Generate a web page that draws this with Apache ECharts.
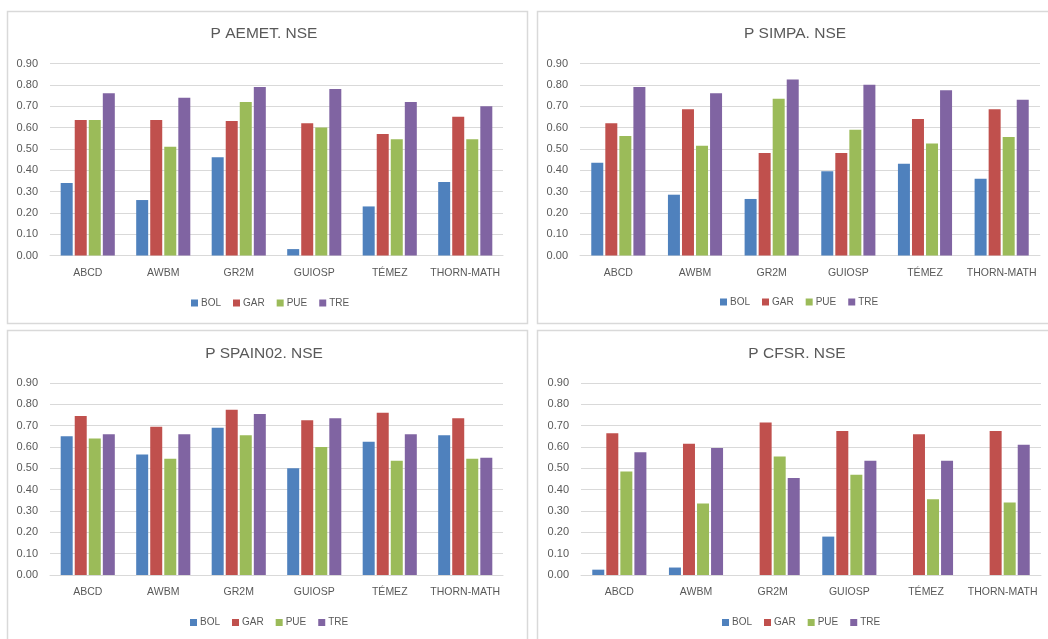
<!DOCTYPE html>
<html>
<head>
<meta charset="utf-8">
<title>NSE por modelo y estación</title>
<script src="https://cdn.jsdelivr.net/npm/echarts@6/dist/echarts.min.js"></script>
<style>
  html, body { margin: 0; padding: 0; background: #ffffff; }
  #chart { width: 1048px; height: 639px; }
</style>
</head>
<body>
<div id="chart"></div>
<script>
// Models on the category axis and stations in each group
const categories = ['ABCD', 'AWBM', 'GR2M', 'GUIOSP', 'TÉMEZ', 'THORN-MATH'];
const seriesNames = ['BOL', 'GAR', 'PUE', 'TRE'];
const seriesColors = ['#4F81BD', '#C0504D', '#9BBB59', '#8064A2'];
const panelTitles = ['P AEMET. NSE', 'P SIMPA. NSE', 'P SPAIN02. NSE', 'P CFSR. NSE'];
const yTicks = [0, 0.1, 0.2, 0.3, 0.4, 0.5, 0.6, 0.7, 0.8, 0.9];

// NSE values (null = below the axis range, not drawn)
const aemetBOL = [0.34, 0.26, 0.46, 0.03, 0.23, 0.345];
const aemetGAR = [0.635, 0.635, 0.63, 0.62, 0.57, 0.65];
const aemetPUE = [0.635, 0.51, 0.72, 0.60, 0.545, 0.545];
const aemetTRE = [0.76, 0.74, 0.79, 0.78, 0.72, 0.70];

const simpaBOL = [0.435, 0.285, 0.265, 0.395, 0.43, 0.36];
const simpaGAR = [0.62, 0.685, 0.48, 0.48, 0.64, 0.685];
const simpaPUE = [0.56, 0.515, 0.735, 0.59, 0.525, 0.555];
const simpaTRE = [0.79, 0.76, 0.825, 0.80, 0.775, 0.73];

const spainBOL = [0.65, 0.565, 0.69, 0.50, 0.625, 0.655];
const spainGAR = [0.745, 0.695, 0.775, 0.725, 0.76, 0.735];
const spainPUE = [0.64, 0.545, 0.655, 0.60, 0.535, 0.545];
const spainTRE = [0.66, 0.66, 0.755, 0.735, 0.66, 0.55];

const cfsrBOL = [0.025, 0.035, null, 0.18, null, null];
const cfsrGAR = [0.665, 0.615, 0.715, 0.675, 0.66, 0.675];
const cfsrPUE = [0.485, 0.335, 0.555, 0.47, 0.355, 0.34];
const cfsrTRE = [0.575, 0.595, 0.455, 0.535, 0.535, 0.61];

const panelData = [
  [aemetBOL, aemetGAR, aemetPUE, aemetTRE],
  [simpaBOL, simpaGAR, simpaPUE, simpaTRE],
  [spainBOL, spainGAR, spainPUE, spainTRE],
  [cfsrBOL, cfsrGAR, cfsrPUE, cfsrTRE]
];

const FONT = '"Liberation Sans", Arial, sans-serif';
const TEXT = '#595959';
const GRIDLINE = '#D9D9D9';

// Panel frames and the plot rectangle inside each one
const frames = [
  { x: 7, y: 11, w: 520, h: 312 },
  { x: 537, y: 11, w: 520, h: 312 },
  { x: 7, y: 330, w: 520, h: 320 },
  { x: 537, y: 330, w: 520, h: 320 }
];
const plots = [
  { left: 50, top: 63.5, width: 453, height: 192 },
  { left: 580, top: 63.5, width: 460, height: 192 },
  { left: 50, top: 383, width: 453, height: 192 },
  { left: 581, top: 383, width: 460, height: 192 }
];
const titlePos = [{ x: 264, y: 25.5 }, { x: 795, y: 25.5 }, { x: 264, y: 345.5 }, { x: 797, y: 345.5 }];
const legendPos = [{ x: 191, y: 298 }, { x: 720, y: 297 }, { x: 190, y: 617.5 }, { x: 722, y: 617.5 }];

const option = {
  animation: false,
  backgroundColor: '#ffffff',
  textStyle: { fontFamily: FONT },
  title: panelTitles.map((t, i) => ({
    text: t,
    left: titlePos[i].x,
    top: titlePos[i].y,
    textAlign: 'center',
    padding: 0,
    textStyle: { fontFamily: FONT, fontSize: 15.5, fontWeight: 'normal', color: TEXT }
  })),
  legend: legendPos.map(p => ({
    data: seriesNames,
    left: p.x,
    top: p.y,
    padding: 0,
    itemWidth: 7,
    itemHeight: 7,
    itemGap: 12,
    icon: 'rect',
    textStyle: { fontFamily: FONT, fontSize: 10, color: TEXT, padding: [0, 0, 0, -2] }
  })),
  grid: plots.map(p => ({ left: p.left, top: p.top, width: p.width, height: p.height, containLabel: false })),
  xAxis: plots.map((p, i) => ({
    type: 'category',
    gridIndex: i,
    data: categories,
    axisTick: { show: false },
    axisLine: { lineStyle: { color: GRIDLINE, width: 1 } },
    axisLabel: { fontFamily: FONT, fontSize: 10.5, color: TEXT, margin: 12, interval: 0 }
  })),
  yAxis: plots.map((p, i) => ({
    type: 'value',
    gridIndex: i,
    min: yTicks[0],
    max: yTicks[yTicks.length - 1],
    interval: 0.1,
    axisLine: { show: false },
    axisTick: { show: false },
    splitLine: { lineStyle: { color: GRIDLINE, width: 1 } },
    axisLabel: {
      fontFamily: FONT, fontSize: 11, color: TEXT, margin: 12,
      formatter: v => v.toFixed(2)
    }
  })),
  series: [],
  graphic: frames.map(f => ({
    type: 'rect',
    silent: true,
    z: -1,
    shape: { x: f.x + 0.5, y: f.y + 0.5, width: f.w, height: f.h },
    style: { fill: 'none', stroke: '#D9D9D9', lineWidth: 1.5 }
  }))
};

panelData.forEach((group, i) => {
  group.forEach((values, s) => {
    option.series.push({
      type: 'bar',
      name: seriesNames[s],
      xAxisIndex: i,
      yAxisIndex: i,
      data: values,
      barWidth: 12,
      barGap: '17%',
      itemStyle: { color: seriesColors[s] }
    });
  });
});

const chart = echarts.init(document.getElementById('chart'), null, { renderer: 'canvas' });
chart.setOption(option);
</script>
</body>
</html>
